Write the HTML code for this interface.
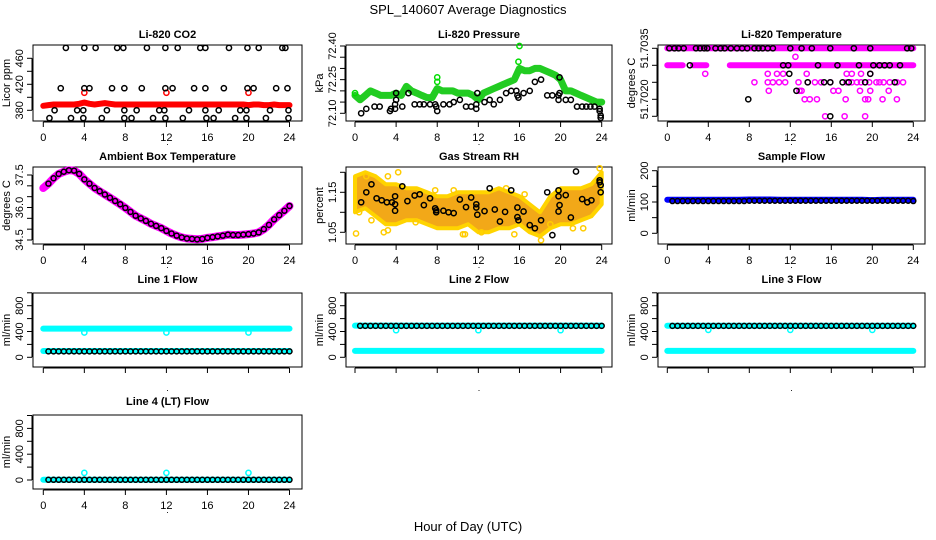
<!DOCTYPE html>
<html><head><meta charset="utf-8"><style>
html,body{margin:0;padding:0;background:#fff;}
svg{display:block;font-family:"Liberation Sans",Arial,sans-serif;}
</style></head><body>
<svg id="chart" xmlns="http://www.w3.org/2000/svg" width="936" height="540" viewBox="0 0 936 540">
<rect x="0" y="0" width="936" height="540" fill="#fff"/>
<text x="468" y="14" text-anchor="middle" font-size="13">SPL_140607  Average Diagnostics</text>
<text x="468" y="531" text-anchor="middle" font-size="13">Hour of Day (UTC)</text>
</svg>
<script>
// ---- data ----
const HH = [0,0.5,1,1.5,2,2.5,3,3.5,4,4.5,5,5.5,6,6.5,7,7.5,8,8.5,9,9.5,10,10.5,11,11.5,12,12.5,13,13.5,14,14.5,15,15.5,16,16.5,17,17.5,18,18.5,19,19.5,20,20.5,21,21.5,22,22.5,23,23.5,24];
const HB = [0.5,1,1.5,2,2.5,3,3.5,4,4.5,5,5.5,6,6.5,7,7.5,8,8.5,9,9.5,10,10.5,11,11.5,12,12.5,13,13.5,14,14.5,15,15.5,16,16.5,17,17.5,18,18.5,19,19.5,20,20.5,21,21.5,22,22.5,23,23.5,24];
const HR = [0,1,2,3,4,5,6,7,8,9,10,11,12,13,14,15,16,17,18,19,20,21,22,23,24];
const xTicks = [0,4,8,12,16,20,24];

const co2Red = [387,388,389,389,389,389,389,390,392,390,389,390,391,390,389,389,389,389,389,389,389,389,389,389,389,389,389,389,389,389,389,389,389,389,389,389,389,389,389,389,388,389,389,388,388,389,388,388,388];
const co2RedOutT = [4,12,20];
const co2RedOutV = [407,407,407];
const co2BlackT = [2.2,4.0,5.1,7.2,7.8,10.1,11.9,13.1,15.3,15.8,18.1,19.9,21.0,23.3,23.6,
 1.7,4.0,4.5,6.7,7.9,9.6,11.9,12.6,14.7,15.8,17.6,19.9,20.5,22.7,23.8,
 1.1,3.3,3.9,6.2,7.9,9.1,11.3,11.8,14.2,15.8,17.1,19.2,19.8,22.1,23.9,
 0.6,2.7,3.9,5.7,7.9,8.6,10.7,11.9,13.6,15.9,16.6,18.7,19.8,21.7,23.9];
const co2BlackV = [476,476,476,476,476,476,476,476,476,476,476,476,476,476,476,
 414,414,414,414,414,414,414,414,414,414,414,414,414,414,414,
 380,380,380,380,380,380,380,380,380,380,380,380,380,380,380,
 368,368,368,368,368,368,368,368,368,368,368,368,368,368,368];

const presGreen = [72.18,72.16,72.18,72.20,72.19,72.18,72.18,72.18,72.19,72.18,72.22,72.20,72.19,72.18,72.17,72.17,72.21,72.20,72.20,72.20,72.19,72.19,72.19,72.18,72.16,72.19,72.20,72.21,72.22,72.23,72.24,72.25,72.30,72.29,72.29,72.30,72.30,72.29,72.28,72.27,72.25,72.20,72.20,72.19,72.18,72.17,72.16,72.15,72.15];
const presOutT = [0.0,8.0,8.0,15.9,16.0];
const presOutV = [72.19,72.26,72.24,72.33,72.40];
const presBlackT = [0.6,1.1,1.9,2.4,3.4,3.5,3.9,3.9,4.0,4.0,4.6,5.2,5.8,6.3,6.7,7.3,7.8,7.9,8.0,8.6,9.2,9.6,10.2,10.8,11.3,11.8,11.8,11.9,12.6,13.1,13.5,14.1,14.7,15.2,15.7,15.8,15.9,16.4,17.0,17.5,18.1,18.7,19.2,19.8,19.9,19.8,19.9,20.5,21.0,21.6,22.1,22.5,22.9,23.3,23.8,23.8,23.9,23.9];
const presBlackV = [72.10,72.12,72.13,72.13,72.11,72.12,72.12,72.14,72.19,72.16,72.13,72.19,72.14,72.14,72.14,72.14,72.14,72.13,72.11,72.14,72.14,72.15,72.16,72.13,72.13,72.12,72.14,72.19,72.15,72.16,72.14,72.16,72.19,72.20,72.20,72.18,72.17,72.19,72.20,72.24,72.25,72.18,72.18,72.18,72.19,72.16,72.26,72.16,72.16,72.13,72.13,72.13,72.13,72.13,72.11,72.12,72.09,72.08];

const tempBandT = [[0,1.5],[2.5,3.8],[6.1,24]];
const tempTop = 51.7035, tempSecond = 51.7030;
const tempMagT = [3.7,9.8,10.7,11.3,13.6,17.5,18.0,18.9,19.8,
 8.5,9.8,10.3,10.9,11.5,12.8,13.7,14.4,15.0,15.9,17.5,18.0,18.5,18.9,19.7,20.4,20.7,21.1,21.7,22.4,23.0,
 9.9,12.9,13.1,16.2,16.7,18.8,19.8,21.6,
 13.4,13.9,14.6,17.4,19.3,19.6,21.0,22.4,
 15.4,17.3,19.3,12.5];
const tempMagV = [51.70275,51.70275,51.70275,51.70275,51.70275,51.70275,51.70275,51.70275,51.70275,
 51.7025,51.7025,51.7025,51.7025,51.7025,51.7025,51.7025,51.7025,51.7025,51.7025,51.7025,51.7025,51.7025,51.7025,51.7025,51.7025,51.7025,51.7025,51.7025,51.7025,51.7025,
 51.70225,51.70225,51.70225,51.70225,51.70225,51.70225,51.70225,51.70225,
 51.7020,51.7020,51.7020,51.7020,51.7020,51.7020,51.7020,51.7020,
 51.7015,51.7015,51.7015,51.70325];
const tempBlackT = [0.2,0.7,1.1,1.6,2.8,3.2,3.6,3.9,4.7,5.2,5.6,6.2,6.8,7.3,7.8,8.5,8.9,9.3,9.8,10.3,12.0,13.1,14.1,15.9,18.2,19.8,23.4,23.8,
 2.2,11.3,11.8,14.7,16.6,18.7,20.1,20.7,21.2,21.7,22.7,
 11.9,19.8,
 13.7,15.3,15.9,17.1,17.7,19.3,22.2,
 12.6,7.9,15.9];
const tempBlackV = [51.7035,51.7035,51.7035,51.7035,51.7035,51.7035,51.7035,51.7035,51.7035,51.7035,51.7035,51.7035,51.7035,51.7035,51.7035,51.7035,51.7035,51.7035,51.7035,51.7035,51.7035,51.7035,51.7035,51.7035,51.7035,51.7035,51.7035,51.7035,
 51.7030,51.7030,51.7030,51.7030,51.7030,51.7030,51.7030,51.7030,51.7030,51.7030,51.7030,
 51.70275,51.70275,
 51.7025,51.7025,51.7025,51.7025,51.7025,51.7025,51.7025,
 51.70225,51.7020,51.7015];

const ambMag = [36.9,37.1,37.35,37.55,37.65,37.72,37.7,37.55,37.3,37.1,36.9,36.75,36.6,36.45,36.3,36.15,35.98,35.8,35.62,35.5,35.38,35.25,35.15,35.05,34.92,34.8,34.7,34.62,34.57,34.55,34.53,34.55,34.6,34.63,34.67,34.7,34.75,34.73,34.73,34.75,34.77,34.8,34.85,35.0,35.2,35.45,35.65,35.85,36.07];
const ambBlack = [37.1,37.35,37.55,37.65,37.72,37.7,37.55,37.3,37.1,36.9,36.75,36.6,36.45,36.3,36.15,35.98,35.8,35.62,35.5,35.38,35.25,35.15,35.05,34.92,34.8,34.7,34.62,34.57,34.55,34.53,34.55,34.6,34.63,34.67,34.7,34.75,34.73,34.73,34.75,34.77,34.8,34.85,35.0,35.2,35.45,35.65,35.85,36.07];

const rhHigh = [1.19,1.20,1.19,1.17,1.17,1.16,1.16,1.15,1.14,1.14,1.15,1.15,1.15,1.15,1.16,1.15,1.14,1.12,1.10,1.14,1.16,1.16,1.16,1.17,1.20];
const rhLow = [1.10,1.11,1.09,1.07,1.07,1.08,1.08,1.07,1.06,1.06,1.06,1.07,1.05,1.05,1.06,1.06,1.07,1.05,1.04,1.06,1.07,1.07,1.08,1.09,1.12];
const rhYellowT = [0.1,1.1,1.6,3.2,2.8,3.2,4.2,7.8,9.6,10.5,10.7,15.5,14.7,16.5,18.1,23.8,21.2,22.2,0.4,5.9,12.3,19.0];
const rhYellowV = [1.047,1.19,1.08,1.19,1.05,1.055,1.20,1.155,1.155,1.045,1.045,1.045,1.16,1.145,1.03,1.21,1.06,1.06,1.10,1.075,1.05,1.07];
const rhBlackT = [0.6,1.1,1.6,2.1,2.6,3.1,3.6,3.9,3.9,3.9,4.6,5.1,5.8,6.3,6.7,7.3,7.8,7.9,7.9,8.6,9.1,9.6,10.2,10.8,11.3,11.8,11.8,11.9,12.6,13.1,13.6,14.1,14.6,15.2,15.8,15.8,15.9,16.4,17.0,17.5,18.1,18.7,19.2,19.8,19.8,19.9,19.8,20.5,21.0,21.5,22.1,22.6,23.0,23.8,23.8,23.9,23.9];
const rhBlackV = [1.125,1.15,1.17,1.135,1.13,1.125,1.125,1.14,1.12,1.104,1.165,1.128,1.142,1.145,1.118,1.135,1.11,1.105,1.10,1.104,1.10,1.098,1.132,1.113,1.137,1.12,1.112,1.094,1.103,1.16,1.107,1.077,1.101,1.155,1.112,1.088,1.08,1.102,1.068,1.06,1.08,1.15,1.043,1.155,1.14,1.118,1.102,1.143,1.087,1.202,1.133,1.125,1.13,1.18,1.175,1.168,1.15];

const sampleBlue = [107,107,107,107,107,107,107,107,108,108,108,107,107,107,107,107,107,107,107,107,106,107,107,107,107];
const sampleBlack = [103,103,103,103,103,103,103,103,103,103,103,103,103,103,103,104,104,104,104,104,104,104,104,104,104,104,104,104,104,104,104,104,104,104,104,104,104,104,104,104,104,104,104,104,104,104,104,103];

const l1CyanHigh = [445,445,445,445,445,445,445,445,445,445,445,445,445,445,445,445,445,445,445,445,445,445,445,445,445];
const l1CyanLow = [98,98,98,98,98,98,98,98,98,98,98,98,98,98,98,98,98,98,98,98,98,98,98,98,98];
const l1CyanOut = [385,385,385];
const l1Black = [92,92,92,92,92,92,92,92,92,92,92,92,92,92,92,92,92,92,92,92,92,92,92,92,92,92,92,92,92,92,92,92,92,92,92,92,92,92,92,92,92,92,92,92,92,92,92,92];

const l2CyanHigh = [492,492,492,492,492,492,492,492,492,492,492,492,492,492,492,492,492,492,492,492,492,492,492,492,492];
const l2CyanLow = [100,100,100,100,100,100,100,100,100,100,100,100,100,100,100,100,100,100,100,100,100,100,100,100,100];
const l2CyanOut = [420,420,420];
const l2Black = [488,488,488,488,488,488,488,488,488,488,488,488,488,488,488,488,488,488,488,488,488,488,488,488,488,488,488,488,488,488,488,488,488,488,488,488,488,488,488,488,488,488,488,488,488,488,488,488];

const l3CyanHigh = [490,490,490,490,490,490,490,490,490,490,490,490,490,490,490,490,490,490,490,490,490,490,490,490,490];
const l3CyanLow = [100,100,100,100,100,100,100,100,100,100,100,100,100,100,100,100,100,100,100,100,100,100,100,100,100];
const l3CyanOut = [425,425,425];
const l3Black = [487,487,487,487,487,487,487,487,487,487,487,487,487,487,487,487,487,487,487,487,487,487,487,487,487,487,487,487,487,487,487,487,487,487,487,487,487,487,487,487,487,487,487,487,487,487,487,487];

const l4Cyan = [5,5,5,5,5,5,5,5,5,5,5,5,5,5,5,5,5,5,5,5,5,5,5,5,5];
const l4CyanOut = [110,110,110];
const l4Black = [3,3,3,3,3,3,3,3,3,3,3,3,3,3,3,3,3,3,3,3,3,3,3,3,3,3,3,3,3,3,3,3,3,3,3,3,3,3,3,3,3,3,3,3,3,3,3,3];
const outT = [4,12,20];

// ---- layout ----
const NS = 'http://www.w3.org/2000/svg';
const svg = document.getElementById('chart');
const COLS = [{l:33,r:302,x0:43.3,x24:289.5},{l:346,r:612,x0:355,x24:601.7},{l:658,r:925,x0:667.3,x24:913.3}];
const ROWS = [{t:45,b:121,ty:38},{t:167,b:244,ty:160},{t:293,b:367,ty:283},{t:415,b:489,ty:405}];

function mk(tag, attrs, parent){
  const e = document.createElementNS(NS, tag);
  for (const k in attrs) e.setAttribute(k, attrs[k]);
  (parent || svg).appendChild(e);
  return e;
}

function panel(p){
  const c = COLS[p.col], r = ROWS[p.row];
  const g = mk('g', {});
  
  
  const xs = h => c.x0 + (c.x24 - c.x0) * h / 24;
  const ys = v => p.y1 + (v - p.v1) * (p.y2 - p.y1) / (p.v2 - p.v1);
  const title = mk('text', {x:(c.l+c.r)/2, y:r.ty, 'text-anchor':'middle', 'font-size':11, 'font-weight':'bold'}, g);
  title.textContent = p.title;
  
  
  const box = mk('rect', {x:c.l, y:r.t, width:c.r-c.l, height:r.b-r.t, fill:'none', stroke:'#000', 'stroke-width':1}, g);
  
  
  // x axis
  const xa = mk('g', {stroke:'#000', 'stroke-width':1}, g);
  
  
  mk('line', {x1:xs(0), x2:xs(24), y1:r.b+1, y2:r.b+1}, xa);
  xTicks.forEach(t => {
    mk('line', {x1:xs(t), x2:xs(t), y1:r.b+1, y2:r.b+6}, xa);
    if (p.row !== 2) {
      const tl = mk('text', {x:xs(t), y:r.b+20, 'text-anchor':'middle', 'font-size':11, stroke:'none'}, g);
      tl.textContent = t;
      
      
    }
  });
  const dot = mk('text', {x:(c.l+c.r)/2, y:r.b+24, 'text-anchor':'middle', 'font-size':9}, g);
  dot.textContent = '.';
  
  
  // y axis
  const ya = mk('g', {stroke:'#000', 'stroke-width':1}, g);
  
  
  mk('line', {x1:c.l-1, x2:c.l-1, y1:ys(p.ticks[0]), y2:ys(p.ticks[p.ticks.length-1])}, ya);
  p.ticks.forEach(t => { mk('line', {x1:c.l-6, x2:c.l-1, y1:ys(t), y2:ys(t)}, ya); });
  p.labels.forEach((lab, i) => {
    const y = ys(p.labelVals[i]);
    const tl = mk('text', {x:c.l-10, y:y, 'text-anchor':'middle', 'font-size':11, transform:'rotate(-90 '+(c.l-10)+' '+y+')'}, g);
    tl.textContent = lab;
    
    
  });
  const yl = mk('text', {x:c.l-23, y:(r.t+r.b)/2, 'text-anchor':'middle', 'font-size':11, transform:'rotate(-90 '+(c.l-23)+' '+((r.t+r.b)/2)+')'}, g);
  yl.textContent = p.ylab;
  
  
  const data = mk('g', {}, g);
  
  
  return {g:data, xs, ys};
}

function pts(P, ts, vs, color, name, rr){
  const grp = mk('g', {fill:'none', stroke:color, 'stroke-width':1.5}, P.g);
  
  
  ts.forEach((t, i) => {
    const c = mk('circle', {cx:P.xs(t), cy:P.ys(vs[i]), r:rr||2.6}, grp);
    
    
  });
}
function band(P, ts, vs, color, w, name){
  const d = ts.map((t, i) => P.xs(t).toFixed(1) + ',' + P.ys(vs[i]).toFixed(1)).join(' ');
  const pl = mk('polyline', {points:d, fill:'none', stroke:color, 'stroke-width':w, 'stroke-linecap':'round', 'stroke-linejoin':'round'}, P.g);
  
  
}
function rng(a, b, s){ const o = []; for (let v = a; v <= b + 1e-9; v += s) o.push(+v.toFixed(6)); return o; }

// CO2
let P = panel({name:'co2-panel', col:0, row:0, title:'Li-820 CO2', ylab:'Licor ppm', v1:380, y1:110.3, v2:460, y2:58.3,
  ticks:rng(380,460,20), labels:['380','420','460'], labelVals:[380,420,460]});
band(P, HH, co2Red, '#ff0000', 6, 'co2-red-band');
pts(P, co2RedOutT, co2RedOutV, '#ff0000', 'co2-red-outliers');
pts(P, co2BlackT, co2BlackV, '#000', 'co2-black-series');

// Pressure
P = panel({name:'pressure-panel', col:1, row:0, title:'Li-820 Pressure', ylab:'kPa', v1:72.10, y1:113.3, v2:72.40, y2:46,
  ticks:rng(72.10,72.40,0.05), labels:['72.10','72.25','72.40'], labelVals:[72.10,72.25,72.40]});
band(P, HH, presGreen, '#22cc22', 7, 'pressure-green-band');
pts(P, presOutT, presOutV, '#00dd00', 'pressure-green-outliers');
pts(P, presBlackT, presBlackV, '#000', 'pressure-black-series');

// Temperature
P = panel({name:'li820-temperature-panel', col:2, row:0, title:'Li-820 Temperature', ylab:'degrees C', v1:51.7015, y1:116.3, v2:51.7035, y2:48.3,
  ticks:rng(51.7015,51.7035,0.0005), labels:['51.7020','51.7035'], labelVals:[51.7020,51.7035]});
band(P, [0,24], [tempTop,tempTop], '#ff00ff', 6, 'temp-magenta-top-band');
tempBandT.forEach(s => band(P, s, [tempSecond,tempSecond], '#ff00ff', 6, 'temp-magenta-second-band'));
pts(P, tempMagT, tempMagV, '#ff00ff', 'temp-magenta-points');
pts(P, tempBlackT, tempBlackV, '#000', 'temp-black-series');

// Ambient
P = panel({name:'ambient-temperature-panel', col:0, row:1, title:'Ambient Box Temperature', ylab:'degrees C', v1:34.5, y1:240, v2:37.5, y2:175,
  ticks:rng(34.5,37.5,0.5), labels:['34.5','36.0','37.5'], labelVals:[34.5,36.0,37.5]});
band(P, HH, ambMag, '#ff00ff', 8, 'ambient-magenta-band');
pts(P, HB, ambBlack, '#000', 'ambient-black-series', 2.5);

// RH
P = panel({name:'gas-stream-rh-panel', col:1, row:1, title:'Gas Stream RH', ylab:'percent', v1:1.05, y1:232.3, v2:1.15, y2:192.3,
  ticks:[1.05,1.10,1.15,1.20], labels:['1.05','1.15'], labelVals:[1.05,1.15]});
{
  const up = HR.map((t,i) => P.xs(t).toFixed(1)+','+P.ys(rhHigh[i]).toFixed(1));
  const lo = HR.map((t,i) => P.xs(t).toFixed(1)+','+P.ys(rhLow[i]).toFixed(1)).reverse();
  const poly = mk('polygon', {points:up.concat(lo).join(' '), fill:'#f2a818', stroke:'#ffd400', 'stroke-width':4, 'stroke-linejoin':'round'}, P.g);
  
  
}
pts(P, rhYellowT, rhYellowV, '#ffcc00', 'rh-yellow-outliers');
pts(P, rhBlackT, rhBlackV, '#000', 'rh-black-series');

// Sample flow
P = panel({name:'sample-flow-panel', col:2, row:1, title:'Sample Flow', ylab:'ml/min', v1:0, y1:233.3, v2:200, y2:170.7,
  ticks:[0,50,100,150,200], labels:['0','100','200'], labelVals:[0,100,200]});
band(P, HR, sampleBlue, '#0000ff', 6, 'sample-blue-band');
pts(P, HB, sampleBlack, '#000', 'sample-black-series', 2.5);

// Line flows
const flowTicks = [0,200,400,600,800,1000];
function flowPanel(name, col, row, title, y0){
  return panel({name, col, row, title, ylab:'ml/min', v1:0, y1:y0, v2:800, y2:y0-51.6,
    ticks:flowTicks, labels:['0','400','800'], labelVals:[0,400,800]});
}
P = flowPanel('line1-flow-panel', 0, 2, 'Line 1 Flow', 357.3);
band(P, HR, l1CyanHigh, '#00ffff', 6, 'line1-cyan-high-band');
band(P, HR, l1CyanLow, '#00ffff', 6, 'line1-cyan-low-band');
pts(P, outT, l1CyanOut, '#00ffff', 'line1-cyan-outliers');
pts(P, HB, l1Black, '#000', 'line1-black-series', 2.5);

P = flowPanel('line2-flow-panel', 1, 2, 'Line 2 Flow', 357.3);
band(P, HR, l2CyanHigh, '#00ffff', 6, 'line2-cyan-high-band');
band(P, HR, l2CyanLow, '#00ffff', 6, 'line2-cyan-low-band');
pts(P, outT, l2CyanOut, '#00ffff', 'line2-cyan-outliers');
pts(P, HB, l2Black, '#000', 'line2-black-series', 2.5);

P = flowPanel('line3-flow-panel', 2, 2, 'Line 3 Flow', 357.3);
band(P, HR, l3CyanHigh, '#00ffff', 6, 'line3-cyan-high-band');
band(P, HR, l3CyanLow, '#00ffff', 6, 'line3-cyan-low-band');
pts(P, outT, l3CyanOut, '#00ffff', 'line3-cyan-outliers');
pts(P, HB, l3Black, '#000', 'line3-black-series', 2.5);

P = flowPanel('line4-flow-panel', 0, 3, 'Line 4 (LT) Flow', 480);
band(P, HR, l4Cyan, '#00ffff', 6, 'line4-cyan-band');
pts(P, outT, l4CyanOut, '#00ffff', 'line4-cyan-outliers');
pts(P, HB, l4Black, '#000', 'line4-black-series', 2.5);
</script>
</body></html>
